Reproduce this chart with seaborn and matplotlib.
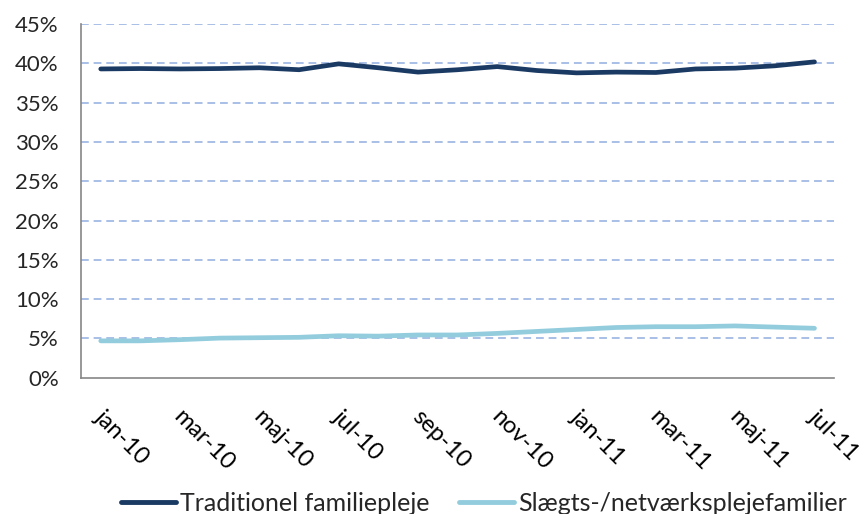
import pandas as pd
import matplotlib.pyplot as plt
import seaborn as sns
from matplotlib.ticker import FuncFormatter

# months jan-10 .. jul-11
months = ["jan-10", "feb-10", "mar-10", "apr-10", "maj-10", "jun-10", "jul-10",
          "aug-10", "sep-10", "okt-10", "nov-10", "dec-10", "jan-11", "feb-11",
          "mar-11", "apr-11", "maj-11", "jun-11", "jul-11"]

traditionel = [39.3, 39.35, 39.3, 39.35, 39.45, 39.2, 39.95, 39.45, 38.9, 39.2,
               39.6, 39.1, 38.8, 38.9, 38.85, 39.3, 39.4, 39.7, 40.2]
slaegt = [4.7, 4.7, 4.85, 5.05, 5.1, 5.15, 5.35, 5.3, 5.45, 5.45,
          5.65, 5.9, 6.15, 6.4, 6.5, 6.5, 6.6, 6.45, 6.3]

series_names = ["Traditionel familiepleje", "Slægts-/netværksplejefamilier"]
colors = ["#1B3A63", "#93CDDD"]

df = pd.DataFrame({
    "idx": list(range(len(months))) * 2,
    "value": traditionel + slaegt,
    "serie": [series_names[0]] * len(months) + [series_names[1]] * len(months),
})

sns.set_style("white")
plt.rcParams["font.family"] = ["Lato", "DejaVu Sans"]

fig = plt.figure(figsize=(8.61, 5.14), dpi=100)
ax = fig.add_axes([0.094, 0.265, 0.875, 0.688])

sns.lineplot(data=df, x="idx", y="value", hue="serie", palette=colors,
             linewidth=3.4, ax=ax, legend=True, solid_capstyle="round")

ax.set_xlim(-0.5, len(months) - 0.5)
ax.set_ylim(0, 45)
ax.set_yticks(range(0, 46, 5))
ax.yaxis.set_major_formatter(FuncFormatter(lambda v, p: f"{v:.0f}%"))
for y in range(5, 46, 5):
    ax.axhline(y, color="#A9BFE6", linestyle=(0, (4, 2.5)), linewidth=1.4, zorder=0)

# tick marks between categories, labels on every second month
ax.set_xticks([i - 0.5 for i in range(0, len(months) - 1, 2)])
ax.set_xticklabels([])
for i in range(0, len(months), 2):
    ax.text(i + 0.12, -3.6, months[i], rotation=-45, ha="left", va="top",
            rotation_mode="anchor", fontsize=17, color="black")

for s in ["top", "right"]:
    ax.spines[s].set_visible(False)
for s in ["left", "bottom"]:
    ax.spines[s].set_color("#868686")
    ax.spines[s].set_linewidth(1.2)
ax.tick_params(axis="both", which="both", direction="out", length=6,
               color="#868686", width=1.2, labelsize=16)
ax.tick_params(axis="y", pad=10)
ax.set_xlabel("")
ax.set_ylabel("")

handles, labels = ax.get_legend_handles_labels()
ax.legend(handles, labels, loc="center", bbox_to_anchor=(0.562, 0.02),
          bbox_transform=fig.transFigure, ncol=2, frameon=False, fontsize=18,
          handlelength=2.2, handletextpad=0.15, columnspacing=1.2)
for line in ax.get_legend().get_lines():
    line.set_linewidth(3.5)

fig.savefig("out.png", dpi=100)
